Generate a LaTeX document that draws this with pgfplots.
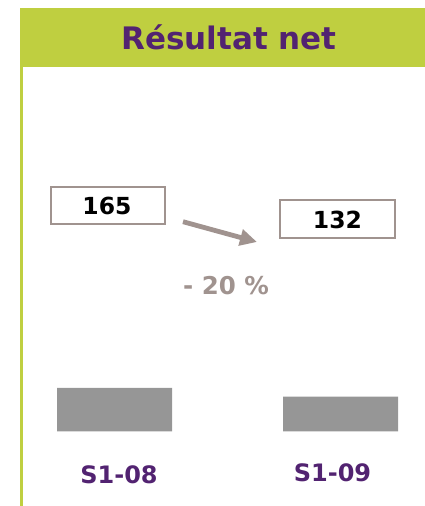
\documentclass[border=0pt]{standalone}
\usepackage{pgfplots}
\pgfplotsset{compat=1.18}
\usepackage{fontspec}
\setmainfont{DejaVu Sans}
\usetikzlibrary{arrows.meta}
\definecolor{hdrgreen}{HTML}{BFCF40}
\definecolor{ttlpurple}{HTML}{522371}
\definecolor{bargrey}{HTML}{969696}
\definecolor{arrgrey}{HTML}{A0938F}
\begin{document}
\begin{tikzpicture}[x=1pt,y=1pt]
\path[use as bounding box] (0,0) rectangle (425,506);
% header
\fill[hdrgreen] (20,439) rectangle (425,498);
\fill[hdrgreen] (20,0) rectangle (22.5,439);
\node[anchor=base,text=ttlpurple,font=\bfseries\fontsize{31}{34}\selectfont,inner sep=0pt] at (229,456) {Résultat net};
% bars
\begin{axis}[at={(1.5pt,74.5pt)},anchor=south west,scale only axis,width=452pt,height=43.5pt,
  xmin=-0.5,xmax=1.5,ymin=0,ymax=165,hide axis,clip=false,
  ybar,bar width=115pt]
\addplot[fill=bargrey,draw=none] coordinates {(0,165) (1,132)};
\end{axis}
% value boxes
\draw[arrgrey,line width=1.3pt,fill=white] (51,282) rectangle (165,319);
\node[anchor=base,font=\bfseries\fontsize{23.5}{26}\selectfont,inner sep=0pt] at (107,291) {165};
\draw[arrgrey,line width=1.3pt,fill=white] (280,268) rectangle (395,306);
\node[anchor=base,font=\bfseries\fontsize{23.5}{26}\selectfont,inner sep=0pt] at (337.5,277.7) {132};
% arrow
\draw[arrgrey,line width=4.8pt,-{Triangle[length=17pt,width=16pt]}] (183,284.3) -- (257,264);
\node[anchor=base,text=arrgrey,font=\bfseries\fontsize{24.5}{27}\selectfont,inner sep=0pt] at (226,211) {- 20 \%};
% category labels
\node[anchor=base,text=ttlpurple,font=\bfseries\fontsize{24}{27}\selectfont,inner sep=0pt] at (119,22.7) {S1-08};
\node[anchor=base,text=ttlpurple,font=\bfseries\fontsize{24}{27}\selectfont,inner sep=0pt] at (332.5,24.3) {S1-09};
\end{tikzpicture}
\end{document}
